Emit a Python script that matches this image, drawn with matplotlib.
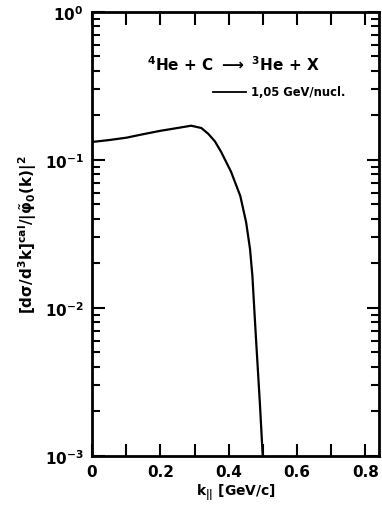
import matplotlib
matplotlib.use("Agg")
import matplotlib.pyplot as plt
from matplotlib.ticker import LogLocator, NullFormatter, MultipleLocator

plt.rcParams['font.family'] = ['DejaVu Sans']
plt.rcParams['font.weight'] = 'bold'
plt.rcParams['axes.labelweight'] = 'bold'
plt.rcParams['mathtext.default'] = 'bf'

# curve: k_parallel [GeV/c] vs ratio
k_par = [0.0, 0.05, 0.10, 0.15, 0.20, 0.25, 0.29, 0.32, 0.34, 0.36, 0.378,
         0.407, 0.434, 0.451, 0.4625, 0.4695, 0.475, 0.480, 0.4917, 0.499, 0.50]
ratio = [0.132, 0.136, 0.141, 0.149, 0.157, 0.164, 0.170, 0.164, 0.150, 0.133, 0.113,
         0.083, 0.057, 0.038, 0.025, 0.0164, 0.0098, 0.0062, 0.0022, 0.00107, 0.001]

fig = plt.figure(figsize=(3.82, 5.10), dpi=100)
ax = fig.add_axes([0.241, 0.104, 0.751, 0.871])

ax.plot(k_par, ratio, color='black', lw=1.6)

ax.set_yscale('log')
ax.set_xlim(0, 0.84)
ax.set_ylim(1e-3, 1)

ax.xaxis.set_minor_locator(MultipleLocator(0.1))
ax.set_xticks([0, 0.2, 0.4, 0.6, 0.8])
ax.set_xticklabels(['0', '0.2', '0.4', '0.6', '0.8'])
ax.yaxis.set_major_locator(LogLocator(base=10, numticks=10))
ax.yaxis.set_minor_locator(LogLocator(base=10, subs=range(2, 10), numticks=10))
ax.yaxis.set_minor_formatter(NullFormatter())

ax.tick_params(which='both', direction='in', top=True, right=True, width=1.5)
ax.tick_params(which='major', length=9, labelsize=11, pad=6)
ax.tick_params(axis='x', which='minor', length=9)
ax.tick_params(axis='y', which='minor', length=6)
for s in ax.spines.values():
    s.set_linewidth(2)

ax.set_xlabel(r'$k_{||}$ [GeV/c]', fontsize=10, labelpad=2)
ax.set_ylabel(r'$\left[d\sigma/d^3k\right]^{cal}/|\tilde{\varphi}_0(k)|^2$', fontsize=11, labelpad=4)

ax.text(0.19, 0.883, r'$^4$He + C $\longrightarrow$ $^3$He + X', transform=ax.transAxes,
        fontsize=11, va='center', ha='left')
ax.plot([0.42, 0.535], [0.82, 0.82], transform=ax.transAxes, color='black', lw=1.3)
ax.text(0.555, 0.82, '1,05 GeV/nucl.', transform=ax.transAxes, fontsize=8.3,
        va='center', ha='left')

fig.savefig('out.png', dpi=100)
